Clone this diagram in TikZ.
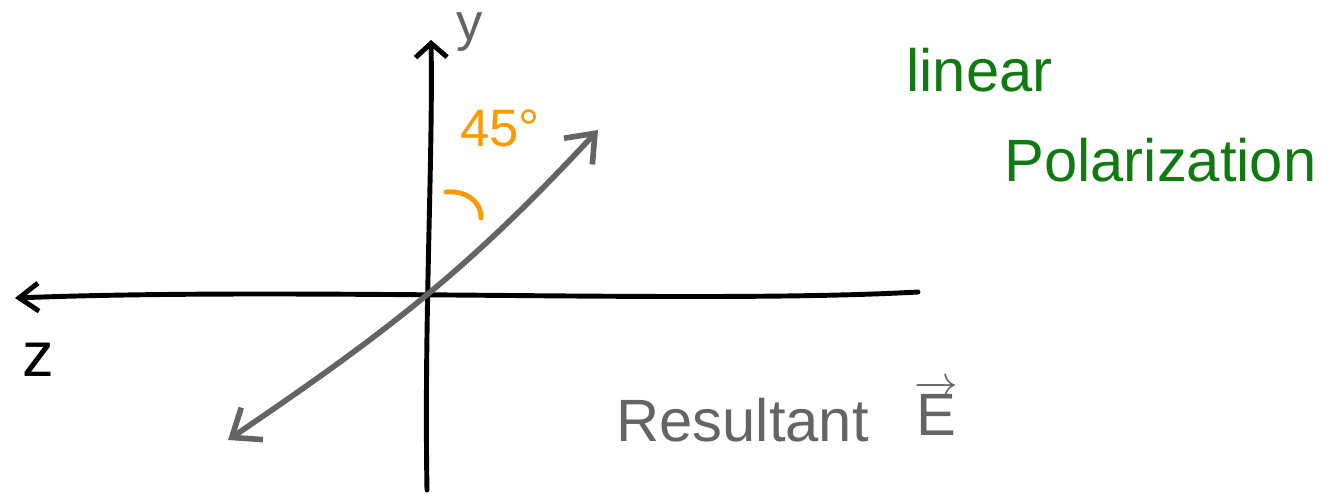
\documentclass[tikz,border=0pt]{standalone}
\usepackage{fontspec}
\setmainfont{Liberation Sans}
\usetikzlibrary{arrows.meta}
\definecolor{pengray}{RGB}{100,100,100}
\definecolor{penorange}{RGB}{255,153,0}
\definecolor{pengreen}{RGB}{16,122,16}
\begin{document}
\begin{tikzpicture}[x=0.02cm,y=-0.02cm,
  pen/.style={line width=2.8pt,line cap=round,line join=round},
  gpen/.style={line width=3.2pt,line cap=round,line join=round,draw=pengray},
  lbl/.style={inner sep=0pt,font=\fontsize{34}{40}\selectfont}]
\useasboundingbox (0,0) rectangle (1332,498);
% axes
\coordinate (vb) at (427,490);
\coordinate (vt) at (431,40);
\coordinate (hr) at (918,292);
\coordinate (hl) at (15,298);
\coordinate (ga) at (228,440);
\coordinate (gb) at (598,130);
\draw[pen,-{Straight Barb[length=8pt,width=18pt]}] (vb) .. controls (424,320) and (433,160) .. (vt);
\draw[pen,-{Straight Barb[length=11pt,width=16pt]}] (hr) .. controls (700,304) and (300,287) .. (hl);
\draw[gpen,{Straight Barb[length=14pt,width=22pt]}-{Straight Barb[length=14pt,width=22pt]}] (ga) .. controls (390,330) and (470,268) .. (gb);
% angle mark
\coordinate (aa) at (446,192);
\coordinate (ab) at (481,218);
\draw[line width=2.8pt,line cap=round,draw=penorange] (aa) .. controls (468,190) and (482,204) .. (ab);
% labels
\node[lbl,text=pengray,font=\fontsize{30}{36}\selectfont] (ylab) at (470,32) {y};
\node[lbl,text=black,font=\fontsize{36}{40}\selectfont] (zlab) at (38,360) {z};
\node[lbl,text=penorange,font=\fontsize{30}{36}\selectfont] (ang) at (500,128) {45°};
\node[lbl,text=pengreen,anchor=west] (lin) at (906,70) {linear};
\node[lbl,text=pengreen,anchor=west] (pol) at (1004,160) {Polarization};
\node[lbl,text=pengray,anchor=west] (res) at (616,420) {Resultant};
\node[lbl,text=pengray,anchor=west] (evec) at (914,408) {$\overrightarrow{\mbox{E}}$};
\end{tikzpicture}
\end{document}
